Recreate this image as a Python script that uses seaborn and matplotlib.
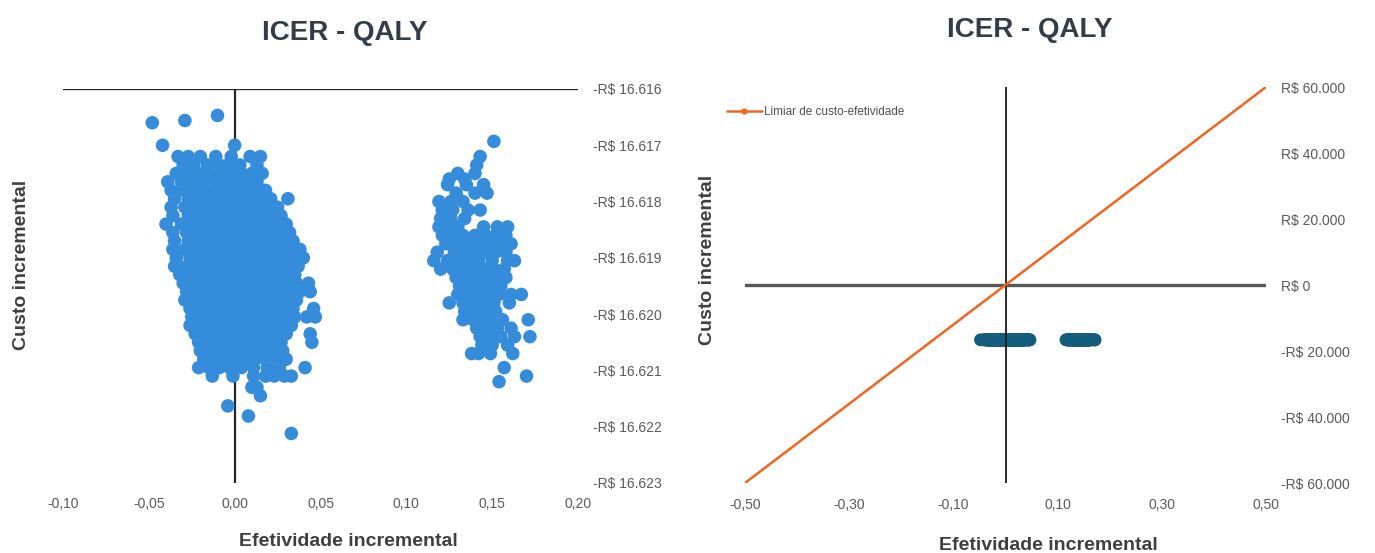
import matplotlib
matplotlib.use("Agg")
import matplotlib.pyplot as plt
from matplotlib.lines import Line2D
from matplotlib.ticker import FixedLocator, FuncFormatter
import seaborn as sns
import pandas as pd

# ---- Monte Carlo results: (incremental effectiveness, incremental cost in R$) ----
cloud_near_zero = [
    (-0.048, -16616.60), (-0.029, -16616.56), (-0.010, -16616.47),
    (-0.042, -16617.00), (0.000, -16617.00),
] + [(x, -16617.20) for x in (-0.033, -0.027, -0.020, -0.011, -0.002, 0.009, 0.015)] \
  + [(x, -16617.35) for x in (-0.030, -0.024, -0.016, -0.009, -0.004, 0.003, 0.013)] \
  + [(x, -16617.50) for x in (-0.034, -0.028, -0.021, -0.015, -0.008, -0.002, 0.004, 0.010, 0.016)] \
  + [(x, -16617.65) for x in (-0.039, -0.031, -0.025, -0.019, -0.012, -0.006, 0.001, 0.007, 0.013)] \
  + [(x, -16617.80) for x in (-0.037, -0.030, -0.024, -0.018, -0.012, -0.006, 0.000, 0.006, 0.012, 0.018)] \
  + [(x, -16617.95) for x in (-0.035, -0.027, -0.021, -0.015, -0.009, -0.003, 0.003, 0.009, 0.015, 0.021, 0.031)] \
  + [(x, -16618.10) for x in (-0.037, -0.029, -0.023, -0.017, -0.011, -0.005, 0.001, 0.007, 0.013, 0.019, 0.025)] \
  + [(x, -16618.25) for x in (-0.036, -0.027, -0.021, -0.015, -0.009, -0.003, 0.003, 0.009, 0.015, 0.021, 0.027)] \
  + [(x, -16618.40) for x in (-0.040, -0.031, -0.025, -0.019, -0.013, -0.007, -0.001, 0.005, 0.011, 0.017, 0.023, 0.030)] \
  + [(x, -16618.55) for x in (-0.036, -0.028, -0.022, -0.016, -0.010, -0.004, 0.002, 0.008, 0.014, 0.020, 0.026, 0.032)] \
  + [(x, -16618.70) for x in (-0.035, -0.027, -0.021, -0.015, -0.009, -0.003, 0.003, 0.009, 0.015, 0.021, 0.027, 0.034)] \
  + [(x, -16618.85) for x in (-0.036, -0.029, -0.023, -0.017, -0.011, -0.005, 0.001, 0.007, 0.013, 0.019, 0.025, 0.031, 0.038)] \
  + [(x, -16619.00) for x in (-0.034, -0.026, -0.020, -0.014, -0.008, -0.002, 0.004, 0.010, 0.016, 0.022, 0.028, 0.034, 0.040)] \
  + [(x, -16619.15) for x in (-0.035, -0.028, -0.022, -0.016, -0.010, -0.004, 0.002, 0.008, 0.014, 0.020, 0.026, 0.032, 0.037)] \
  + [(x, -16619.30) for x in (-0.032, -0.025, -0.019, -0.013, -0.007, -0.001, 0.005, 0.011, 0.017, 0.023, 0.029, 0.035)] \
  + [(x, -16619.45) for x in (-0.030, -0.024, -0.018, -0.012, -0.006, 0.000, 0.006, 0.012, 0.018, 0.024, 0.030, 0.036, 0.043)] \
  + [(x, -16619.60) for x in (-0.028, -0.022, -0.016, -0.010, -0.004, 0.002, 0.008, 0.014, 0.020, 0.026, 0.032, 0.038, 0.044)] \
  + [(x, -16619.75) for x in (-0.029, -0.023, -0.017, -0.011, -0.005, 0.001, 0.007, 0.013, 0.019, 0.025, 0.031, 0.036)] \
  + [(x, -16619.90) for x in (-0.026, -0.020, -0.014, -0.008, -0.002, 0.004, 0.010, 0.016, 0.022, 0.028, 0.034, 0.046)] \
  + [(x, -16620.05) for x in (-0.025, -0.019, -0.013, -0.007, -0.001, 0.005, 0.011, 0.017, 0.023, 0.029, 0.035, 0.042, 0.047)] \
  + [(x, -16620.20) for x in (-0.026, -0.020, -0.014, -0.008, -0.002, 0.004, 0.010, 0.016, 0.022, 0.028, 0.033)] \
  + [(x, -16620.35) for x in (-0.023, -0.017, -0.011, -0.005, 0.001, 0.007, 0.013, 0.019, 0.025, 0.030, 0.044)] \
  + [(x, -16620.50) for x in (-0.021, -0.015, -0.009, -0.003, 0.003, 0.009, 0.015, 0.021, 0.027, 0.045)] \
  + [(x, -16620.65) for x in (-0.020, -0.014, -0.008, -0.002, 0.004, 0.010, 0.016, 0.022, 0.028)] \
  + [(x, -16620.80) for x in (-0.018, -0.012, -0.006, 0.000, 0.006, 0.012, 0.018, 0.025, 0.030)] \
  + [(x, -16620.95) for x in (-0.021, -0.015, -0.009, -0.003, 0.004, 0.011, 0.019, 0.026, 0.041)] \
  + [(x, -16621.10) for x in (-0.013, -0.001, 0.011, 0.018, 0.023, 0.029, 0.033)] \
  + [(0.010, -16621.30), (0.013, -16621.30), (0.015, -16621.45),
     (-0.004, -16621.63), (0.008, -16621.81), (0.033, -16622.12)]

cloud_high_effect = [(0.151, -16616.93), (0.143, -16617.20), (0.141, -16617.35)] \
  + [(x, -16617.50) for x in (0.130, 0.140)] \
  + [(x, -16617.60) for x in (0.125, 0.134)] \
  + [(x, -16617.70) for x in (0.124, 0.135, 0.145)] \
  + [(x, -16617.85) for x in (0.129, 0.140, 0.147)] \
  + [(x, -16618.00) for x in (0.119, 0.126, 0.133)] \
  + [(x, -16618.15) for x in (0.121, 0.127, 0.136, 0.143)] \
  + [(x, -16618.30) for x in (0.120, 0.126, 0.134)] \
  + [(x, -16618.45) for x in (0.119, 0.124, 0.130, 0.145, 0.153, 0.159)] \
  + [(x, -16618.60) for x in (0.121, 0.127, 0.133, 0.140, 0.146, 0.152, 0.158)] \
  + [(x, -16618.75) for x in (0.123, 0.129, 0.135, 0.141, 0.147, 0.154, 0.161)] \
  + [(x, -16618.90) for x in (0.118, 0.128, 0.134, 0.140, 0.146, 0.152, 0.158)] \
  + [(x, -16619.05) for x in (0.116, 0.124, 0.130, 0.136, 0.142, 0.150, 0.159, 0.163)] \
  + [(x, -16619.20) for x in (0.120, 0.127, 0.133, 0.139, 0.145, 0.151, 0.157)] \
  + [(x, -16619.35) for x in (0.129, 0.135, 0.141, 0.147, 0.153, 0.158)] \
  + [(x, -16619.50) for x in (0.131, 0.137, 0.143, 0.149, 0.155)] \
  + [(x, -16619.65) for x in (0.130, 0.136, 0.142, 0.148, 0.154, 0.161, 0.167)] \
  + [(x, -16619.80) for x in (0.125, 0.133, 0.139, 0.145, 0.151, 0.160)] \
  + [(x, -16619.95) for x in (0.134, 0.140, 0.146, 0.152)] \
  + [(x, -16620.10) for x in (0.133, 0.139, 0.145, 0.151, 0.156, 0.171)] \
  + [(x, -16620.25) for x in (0.141, 0.147, 0.153, 0.161)] \
  + [(x, -16620.40) for x in (0.143, 0.149, 0.155, 0.163, 0.172)] \
  + [(x, -16620.55) for x in (0.144, 0.150, 0.159)] \
  + [(x, -16620.70) for x in (0.138, 0.142, 0.149, 0.162)] \
  + [(0.157, -16620.95), (0.170, -16621.10), (0.154, -16621.20)]

# cost-effectiveness threshold line (R$ per QALY)
threshold_x = [-0.50, 0.50]
threshold_y = [-60000, 60000]

left_xticks = [-0.10, -0.05, 0.00, 0.05, 0.10, 0.15, 0.20]
left_yticks = [-16616, -16617, -16618, -16619, -16620, -16621, -16622, -16623]
right_xticks = [-0.50, -0.30, -0.10, 0.10, 0.30, 0.50]
right_yticks = [60000, 40000, 20000, 0, -20000, -40000, -60000]

points = pd.DataFrame(cloud_near_zero + cloud_high_effect,
                      columns=["efetividade", "custo"])
threshold = pd.DataFrame({"efetividade": threshold_x, "custo": threshold_y})

sns.set_theme(style="white")
plt.rcParams["font.family"] = ["Liberation Sans", "DejaVu Sans"]

TICK_GREY = "#595959"
TITLE_COL = "#333d4a"
LABEL_COL = "#3f3f3f"


def brl(v, _pos=None):
    s = f"{abs(v):,.0f}".replace(",", ".")
    return ("-R$ " if v < 0 else "R$ ") + s


def dec(v, _pos=None):
    return f"{v:.2f}".replace(".", ",")


fig = plt.figure(figsize=(13.75, 5.53), dpi=100)
W, H = 1375, 553
ax1 = fig.add_axes([63 / W, 1 - 483 / H, (578 - 63) / W, (483 - 89) / H])
ax2 = fig.add_axes([745 / W, 1 - 483 / H, (1266 - 745) / W, (483 - 87) / H])

# ---- left panel: detailed view of the simulated pairs ----
ax1.axhline(-16616, color="#262626", lw=1.7, zorder=1)
ax1.axvline(0, color="#262626", lw=1.6, zorder=1)
sns.scatterplot(data=points, x="efetividade", y="custo", ax=ax1,
                color="#358cdb", s=95, edgecolor="none", linewidth=0, zorder=3)
ax1.set_xlim(-0.10, 0.20)
ax1.set_ylim(-16623, -16616)

# ---- right panel: pairs against the threshold line ----
ax2.axhline(0, color="#595959", lw=2.4, zorder=1)
sns.scatterplot(data=points, x="efetividade", y="custo", ax=ax2,
                color="#145c7b", s=85, edgecolor="none", linewidth=0, zorder=2)
ax2.axvline(0, color="#1a1a1a", lw=1.3, zorder=3)
sns.lineplot(data=threshold, x="efetividade", y="custo", ax=ax2,
             color="#f2651f", lw=1.8, zorder=4, legend=False)
ax2.set_xlim(-0.50, 0.50)
ax2.set_ylim(-60000, 60000)

for ax, xt, yt, xpad in ((ax1, left_xticks, left_yticks, 10),
                         (ax2, right_xticks, right_yticks, 11)):
    ax.xaxis.set_major_locator(FixedLocator(xt))
    ax.yaxis.set_major_locator(FixedLocator(yt))
    ax.xaxis.set_major_formatter(FuncFormatter(dec))
    ax.yaxis.set_major_formatter(FuncFormatter(brl))
    ax.yaxis.tick_right()
    ax.tick_params(axis="both", length=0, labelsize=10, labelcolor=TICK_GREY)
    ax.tick_params(axis="x", pad=xpad)
    ax.tick_params(axis="y", pad=11)
    ax.set_xlabel("")
    ax.set_ylabel("")
    for sp in ax.spines.values():
        sp.set_visible(False)
    ax.set_facecolor("none")

legend_handle = Line2D([], [], color="#f2651f", lw=1.8, marker="o",
                       markersize=3.5)
fig.legend([legend_handle], ["Limiar de custo-efetividade"],
           loc="center left", bbox_to_anchor=(716 / W, 1 - 112 / H),
           frameon=False, fontsize=8.5, handlelength=3.0, handletextpad=0.2,
           labelcolor="#505050")

# titles and axis labels
for cx, cy, txt in ((345, 33, "ICER - QALY"), (1030, 30, "ICER - QALY")):
    fig.text(cx / W, 1 - cy / H, txt, ha="center", va="center",
             fontsize=20, fontweight="bold", color=TITLE_COL)
for cx, cy in ((348, 541), (1048, 545)):
    fig.text(cx / W, 1 - cy / H, "Efetividade incremental", ha="center",
             va="center", fontsize=14, fontweight="bold", color=LABEL_COL)
for cx, cy in ((22, 265), (707, 260)):
    fig.text(cx / W, 1 - cy / H, "Custo incremental", ha="center",
             va="center", rotation=90, fontsize=14, fontweight="bold",
             color=LABEL_COL)

fig.savefig("out.png", dpi=100, facecolor="white")
